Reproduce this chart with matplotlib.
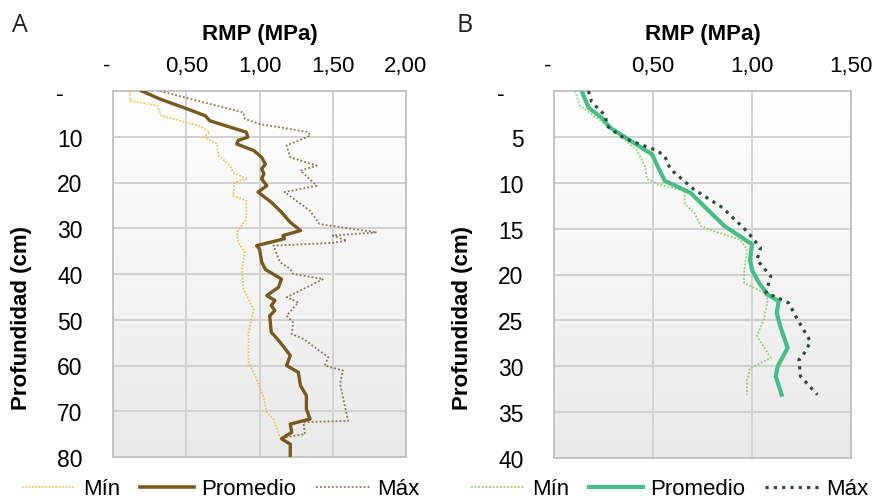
import numpy as np
import matplotlib
matplotlib.use("Agg")
import matplotlib.pyplot as plt
from matplotlib.colors import LinearSegmentedColormap
from matplotlib.lines import Line2D

plt.rcParams['font.family'] = ['Liberation Sans', 'DejaVu Sans']

# Panel A: profundidad (cm) / RMP (MPa)
a_prom_depth = [0, 1.75, 3.6, 5.4, 6.5, 7.9, 9.0, 10.1, 10.8, 11.6, 13.0, 14.5, 16.0, 17.0, 18.1,
                19.2, 20.7, 22.1, 24.3, 26.5, 28.7, 30.5, 31.6, 32.3, 33.8, 34.5, 37.4, 39.0, 41.1,
                42.9, 44.7, 45.8, 46.9, 48.0, 49.1, 52.7, 54.9, 57.8, 60.0, 61.5, 64.4, 66.6, 69.5,
                71.7, 72.8, 74.6, 76.0, 77.2, 80.0]
a_prom_rmp = [0.196, 0.32, 0.48, 0.63, 0.66, 0.80, 0.91, 0.92, 0.855, 0.845, 0.96, 1.015, 1.04, 1.015,
              1.03, 1.015, 1.05, 0.99, 1.08, 1.15, 1.21, 1.28, 1.16, 1.17, 0.98, 1.00, 1.015, 1.04,
              1.15, 1.13, 1.05, 1.105, 1.08, 1.105, 1.07, 1.08, 1.14, 1.21, 1.185, 1.265, 1.28, 1.32,
              1.32, 1.345, 1.21, 1.22, 1.15, 1.21, 1.21]

a_min_depth = [0, 2.1, 3.2, 5.4, 6.5, 7.6, 9.0, 10.1, 11.6, 14.1, 16.3, 17.8, 19.2, 20.0, 22.9, 24.0,
               28.0, 30.9, 33.1, 35.3, 38.9, 43.3, 47.7, 52.7, 59.3, 63.7, 66.6, 70.2, 71.7, 75.7]
a_min_rmp = [0.116, 0.116, 0.30, 0.33, 0.46, 0.59, 0.66, 0.62, 0.71, 0.72, 0.80, 0.82, 0.91, 0.83,
             0.82, 0.91, 0.91, 0.845, 0.855, 0.90, 0.88, 0.89, 0.96, 0.925, 0.925, 0.99, 1.025, 1.05,
             1.095, 1.14]

a_max_depth = [0, 4.7, 6.1, 7.2, 9.0, 9.8, 11.9, 14.5, 16.3, 17.4, 20.7, 22.1, 26.2, 29.1, 30.9,
               31.6, 32.7, 33.2, 33.8, 37.4, 38.9, 40.0, 41.1, 45.1, 46.2, 49.1, 50.6, 53.1, 54.2,
               58.2, 60.0, 61.1, 64.0, 72.1, 72.4, 75.0, 75.7]
a_max_rmp = [0.32, 0.89, 0.90, 1.00, 1.335, 1.345, 1.185, 1.21, 1.39, 1.28, 1.39, 1.17, 1.345, 1.41,
             1.80, 1.50, 1.595, 1.50, 1.095, 1.14, 1.21, 1.23, 1.435, 1.185, 1.265, 1.185, 1.23,
             1.22, 1.30, 1.47, 1.445, 1.57, 1.55, 1.605, 1.30, 1.31, 1.17]

# Panel B
b_prom_depth = [0, 1.8, 2.9, 4.0, 5.4, 6.9, 8.5, 9.8, 11.1, 12.5, 14.7, 16.7, 18.4, 19.5, 20.9,
                22.2, 22.9, 24.2, 25.8, 28.0, 30.0, 31.1, 33.1]
b_prom_rmp = [0.14, 0.174, 0.24, 0.284, 0.385, 0.495, 0.53, 0.56, 0.69, 0.755, 0.86, 1.00, 0.99,
              1.00, 1.035, 1.08, 1.135, 1.125, 1.145, 1.18, 1.13, 1.12, 1.15]

b_min_depth = [0, 1.6, 3.2, 4.9, 6.5, 8.2, 9.6, 10.2, 10.9, 12.3, 13.3, 14.7, 15.4, 16.2, 17.3,
               19.8, 20.9, 22.0, 22.7, 24.9, 26.7, 29.1, 30.2, 31.5, 33.1]
b_min_rmp = [0.106, 0.13, 0.233, 0.334, 0.42, 0.46, 0.47, 0.53, 0.66, 0.66, 0.71, 0.74, 0.825,
             0.94, 0.975, 0.96, 0.96, 1.06, 1.08, 1.06, 1.025, 1.095, 0.99, 0.975, 0.975]

b_max_depth = [0, 1.2, 2.7, 3.8, 4.9, 5.4, 6.5, 7.1, 8.5, 10.7, 12.7, 15.3, 17.1, 18.4, 20.2,
               22.0, 22.5, 23.1, 24.9, 27.3, 28.4, 29.3, 31.1, 33.1]
b_max_rmp = [0.174, 0.19, 0.26, 0.267, 0.334, 0.385, 0.52, 0.56, 0.587, 0.705, 0.85, 0.975, 1.043,
             1.025, 1.095, 1.07, 1.127, 1.185, 1.23, 1.295, 1.27, 1.237, 1.245, 1.33]

a_xticks = [0, 0.5, 1.0, 1.5, 2.0]
a_xlabels = ['-  ', '0,50', '1,00', '1,50', '2,00']
a_yticks = [0, 10, 20, 30, 40, 50, 60, 70, 80]
a_ylabels = ['-   ', '10', '20', '30', '40', '50', '60', '70', '80']
b_xticks = [0, 0.5, 1.0, 1.5]
b_xlabels = ['-  ', '0,50', '1,00', '1,50']
b_yticks = [0, 5, 10, 15, 20, 25, 30, 35, 40]
b_ylabels = ['-   ', '5', '10', '15', '20', '25', '30', '35', '40']

W, H = 878, 502
fig = plt.figure(figsize=(W / 100, H / 100), dpi=100)

bg = LinearSegmentedColormap.from_list('bg', ['#ffffff', '#e9e9e9'])


def setup_axes(rect, xmax, ymax, xticks, xlabels, yticks, ylabels):
    ax = fig.add_axes(rect)
    grad = np.linspace(0, 1, 256).reshape(-1, 1)
    # row 0 (white) at the top of the axes
    ax.imshow(grad, cmap=bg, aspect='auto', extent=[0, 1, 0, 1], origin='upper',
              transform=ax.transAxes, zorder=0)
    ax.set_xlim(0, xmax)
    ax.set_ylim(ymax, 0)
    ax.xaxis.tick_top()
    ax.set_xticks(xticks)
    ax.set_xticklabels(xlabels, fontsize=16)
    ax.set_yticks(yticks)
    ax.set_yticklabels(ylabels, fontsize=16.5)
    ax.tick_params(axis='x', length=0, pad=11)
    ax.tick_params(axis='y', length=0, pad=22)
    ax.grid(True, color='#d2d2d2', linewidth=1.4, zorder=1)
    for s in ax.spines.values():
        s.set_color('#c4c4c4')
        s.set_linewidth(1.4)
    return ax


def px_rect(l, r, t, b):
    return [l / W, (H - b) / H, (r - l) / W, (b - t) / H]


axA = setup_axes(px_rect(113, 406, 92, 458), 2.0, 80, a_xticks, a_xlabels, a_yticks, a_ylabels)
axB = setup_axes(px_rect(554, 851, 92, 459), 1.5, 40, b_xticks, b_xlabels, b_yticks, b_ylabels)

# Panel A series
axA.plot(a_min_rmp, a_min_depth, color='#f3c03a', lw=1.2, ls=(0, (1, 1)), zorder=3)
axA.plot(a_max_rmp, a_max_depth, color='#8a7848', lw=1.3, ls=(0, (1, 1.2)), zorder=3)
axA.plot(a_prom_rmp, a_prom_depth, color='#7a5a1c', lw=2.4, zorder=4, solid_joinstyle='round')

# Panel B series
axB.plot(b_min_rmp, b_min_depth, color='#8fd36b', lw=1.3, ls=(0, (1, 1)), zorder=3)
axB.plot(b_prom_rmp, b_prom_depth, color='#45bf86', lw=3.0, zorder=4, solid_joinstyle='round')
axB.plot(b_max_rmp, b_max_depth, color='#2e4d39', lw=2.3, ls=(0, (1, 1.6)), zorder=5)

# titles and labels
for cx in (259.5, 702.5):
    fig.text(cx / W, 1 - 35 / H, 'RMP (MPa)', ha='center', va='center',
             fontsize=16, fontweight='bold')
for cx in (22, 463):
    fig.text(cx / W, 1 - 318 / H, 'Profundidad (cm)', ha='center', va='center',
             rotation=90, fontsize=16, fontweight='bold')
fig.text(20 / W, 1 - 25 / H, 'A', ha='center', va='center', fontsize=18,
         family=['Open Sans', 'DejaVu Sans'], color='#222222')
fig.text(465 / W, 1 - 25 / H, 'B', ha='center', va='center', fontsize=18,
         family=['Open Sans', 'DejaVu Sans'], color='#222222')

# legends
hA = [Line2D([], [], color='#f3c03a', lw=1.2, ls=(0, (1, 1))),
      Line2D([], [], color='#7a5a1c', lw=2.6),
      Line2D([], [], color='#8a7848', lw=1.3, ls=(0, (1, 1.2)))]
hB = [Line2D([], [], color='#8fd36b', lw=1.3, ls=(0, (1, 1))),
      Line2D([], [], color='#45bf86', lw=3.0),
      Line2D([], [], color='#2e4d39', lw=2.3, ls=(0, (1, 1.6)))]
labels = ['Mín', 'Promedio', 'Máx']
for handles, cx in ((hA, 221), (hB, 670)):
    fig.legend(handles, labels, loc='center', bbox_to_anchor=(cx / W, 1 - 490 / H),
               ncol=3, frameon=False, fontsize=16, handlelength=2.4,
               handletextpad=0.35, columnspacing=0.9, borderpad=0.2)

fig.savefig('out.png', dpi=100)
